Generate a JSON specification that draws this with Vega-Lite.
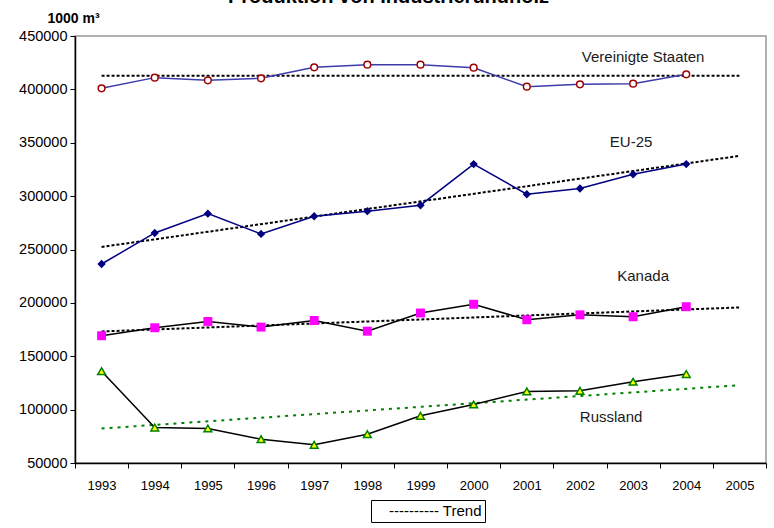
{
  "$schema": "https://vega.github.io/schema/vega-lite/v6.json",
  "autosize": "none",
  "width": 691,
  "height": 427,
  "padding": {"left": 75, "top": 36, "right": 8, "bottom": 65},
  "background": "white",
  "title": {
    "text": "Produktion von Industrierundholz",
    "font": "Liberation Sans",
    "fontSize": 20,
    "fontWeight": "bold",
    "color": "black",
    "anchor": "middle",
    "baseline": "alphabetic",
    "dx": -32,
    "dy": 17,
    "offset": 5
  },
  "config": {
    "view": {"stroke": "#999999", "strokeWidth": 1.5},
    "font": "Liberation Sans",
    "axis": {"grid": false, "domainColor": "black", "tickColor": "black", "labelColor": "black", "titleColor": "black"}
  },
  "datasets": {
    "werte": [
      {"land": "Vereinigte Staaten", "jahr": "1993", "wert": 401000},
      {"land": "Vereinigte Staaten", "jahr": "1994", "wert": 411000},
      {"land": "Vereinigte Staaten", "jahr": "1995", "wert": 408500},
      {"land": "Vereinigte Staaten", "jahr": "1996", "wert": 410400},
      {"land": "Vereinigte Staaten", "jahr": "1997", "wert": 420700},
      {"land": "Vereinigte Staaten", "jahr": "1998", "wert": 423100},
      {"land": "Vereinigte Staaten", "jahr": "1999", "wert": 423100},
      {"land": "Vereinigte Staaten", "jahr": "2000", "wert": 420300},
      {"land": "Vereinigte Staaten", "jahr": "2001", "wert": 402500},
      {"land": "Vereinigte Staaten", "jahr": "2002", "wert": 404700},
      {"land": "Vereinigte Staaten", "jahr": "2003", "wert": 405300},
      {"land": "Vereinigte Staaten", "jahr": "2004", "wert": 414100},
      {"land": "EU-25", "jahr": "1993", "wert": 236400},
      {"land": "EU-25", "jahr": "1994", "wert": 265500},
      {"land": "EU-25", "jahr": "1995", "wert": 283600},
      {"land": "EU-25", "jahr": "1996", "wert": 264600},
      {"land": "EU-25", "jahr": "1997", "wert": 281200},
      {"land": "EU-25", "jahr": "1998", "wert": 285900},
      {"land": "EU-25", "jahr": "1999", "wert": 291500},
      {"land": "EU-25", "jahr": "2000", "wert": 330000},
      {"land": "EU-25", "jahr": "2001", "wert": 301800},
      {"land": "EU-25", "jahr": "2002", "wert": 307100},
      {"land": "EU-25", "jahr": "2003", "wert": 320500},
      {"land": "EU-25", "jahr": "2004", "wert": 330000},
      {"land": "Kanada", "jahr": "1993", "wert": 169200},
      {"land": "Kanada", "jahr": "1994", "wert": 176700},
      {"land": "Kanada", "jahr": "1995", "wert": 182600},
      {"land": "Kanada", "jahr": "1996", "wert": 177300},
      {"land": "Kanada", "jahr": "1997", "wert": 183500},
      {"land": "Kanada", "jahr": "1998", "wert": 173500},
      {"land": "Kanada", "jahr": "1999", "wert": 190500},
      {"land": "Kanada", "jahr": "2000", "wert": 198700},
      {"land": "Kanada", "jahr": "2001", "wert": 184200},
      {"land": "Kanada", "jahr": "2002", "wert": 188800},
      {"land": "Kanada", "jahr": "2003", "wert": 187000},
      {"land": "Kanada", "jahr": "2004", "wert": 196400},
      {"land": "Russland", "jahr": "1993", "wert": 136000},
      {"land": "Russland", "jahr": "1994", "wert": 83200},
      {"land": "Russland", "jahr": "1995", "wert": 82300},
      {"land": "Russland", "jahr": "1996", "wert": 72300},
      {"land": "Russland", "jahr": "1997", "wert": 67000},
      {"land": "Russland", "jahr": "1998", "wert": 77000},
      {"land": "Russland", "jahr": "1999", "wert": 94200},
      {"land": "Russland", "jahr": "2000", "wert": 104800},
      {"land": "Russland", "jahr": "2001", "wert": 117000},
      {"land": "Russland", "jahr": "2002", "wert": 117600},
      {"land": "Russland", "jahr": "2003", "wert": 126100},
      {"land": "Russland", "jahr": "2004", "wert": 133300}
    ],
    "trend": [
      {"land": "Vereinigte Staaten", "jahr": "1993", "wert": 412800},
      {"land": "Vereinigte Staaten", "jahr": "2005", "wert": 412800},
      {"land": "EU-25", "jahr": "1993", "wert": 252400},
      {"land": "EU-25", "jahr": "2005", "wert": 337700},
      {"land": "Kanada", "jahr": "1993", "wert": 173200},
      {"land": "Kanada", "jahr": "2005", "wert": 195700},
      {"land": "Russland", "jahr": "1993", "wert": 82300},
      {"land": "Russland", "jahr": "2005", "wert": 122900}
    ],
    "beschriftung": [
      {"text": "Vereinigte Staaten", "jahr": "2003", "wert": 430300},
      {"text": "EU-25", "jahr": "2003", "wert": 350700},
      {"text": "Kanada", "jahr": "2003", "wert": 225200},
      {"text": "Russland", "jahr": "2003", "wert": 93100}
    ]
  },
  "encoding": {
    "x": {
      "field": "jahr", "type": "ordinal",
      "scale": {"domain": ["1993","1994","1995","1996","1997","1998","1999","2000","2001","2002","2003","2004","2005"], "paddingInner": 0, "paddingOuter": 0},
      "axis": {"title": null, "labelAngle": 0, "tickBand": "extent", "tickSize": 5, "labelPadding": 11, "labelFont": "Liberation Sans", "labelFontSize": 13, "domainWidth": 1.5}
    },
    "y": {
      "field": "wert", "type": "quantitative",
      "scale": {"domain": [50000, 450000], "nice": false, "zero": false},
      "axis": {"title": "1000 m³", "titleAngle": 0, "titleAlign": "center", "titleBaseline": "alphabetic", "titleX": -2, "titleY": -14, "titleFontSize": 14, "titleFontWeight": "bold", "values": [50000,100000,150000,200000,250000,300000,350000,400000,450000], "format": "d", "labelFontSize": 14.5, "tickSize": 5, "labelPadding": 3, "domainWidth": 1.5}
    }
  },
  "layer": [
    {
      "data": {"name": "trend"},
      "transform": [{"filter": "datum.land !== 'Russland'"}],
      "mark": {"type": "line", "color": "black", "strokeWidth": 2, "strokeDash": [3, 5]},
      "encoding": {
        "detail": {"field": "land"},
        "strokeDash": {"datum": "Trend", "scale": {"domain": ["Trend"], "range": [[3, 2]]}, "legend": {"title": null, "orient": "none", "legendX": 296, "legendY": 464, "strokeColor": "black", "fillColor": "white", "padding": 3, "symbolSize": 0, "symbolOpacity": 0, "symbolStrokeWidth": 0, "labelExpr": "'---------- ' + datum.label", "labelFontSize": 15, "labelColor": "black", "labelOffset": 0}}
      }
    },
    {
      "data": {"name": "trend"},
      "transform": [{"filter": "datum.land === 'Russland'"}],
      "mark": {"type": "line", "color": "#008000", "strokeWidth": 2, "strokeDash": [3, 5]},
      "encoding": {}
    },
    {
      "data": {"name": "werte"},
      "transform": [{"filter": "datum.land === 'Vereinigte Staaten'"}],
      "mark": {"type": "line", "color": "#3c3caa", "strokeWidth": 1.5, "point": {"shape": "circle", "filled": false, "fill": "white", "stroke": "#a00000", "strokeWidth": 1.5, "size": 45}},
      "encoding": {}
    },
    {
      "data": {"name": "werte"},
      "transform": [{"filter": "datum.land === 'EU-25'"}],
      "mark": {"type": "line", "color": "#000080", "strokeWidth": 1.5, "point": {"shape": "diamond", "filled": true, "color": "#000080", "size": 70}},
      "encoding": {}
    },
    {
      "data": {"name": "werte"},
      "transform": [{"filter": "datum.land === 'Kanada'"}],
      "mark": {"type": "line", "color": "black", "strokeWidth": 1.5, "point": {"shape": "square", "filled": true, "color": "#ff00ff", "size": 80}},
      "encoding": {}
    },
    {
      "data": {"name": "werte"},
      "transform": [{"filter": "datum.land === 'Russland'"}],
      "mark": {"type": "line", "color": "black", "strokeWidth": 1.5, "point": {"shape": "triangle-up", "filled": true, "fill": "#ffff00", "stroke": "#008000", "strokeWidth": 1.5, "size": 60}},
      "encoding": {}
    },
    {
      "data": {"name": "beschriftung"},
      "transform": [{"filter": "datum.text === 'Vereinigte Staaten' || datum.text === 'Kanada'"}],
      "mark": {"type": "text", "fontSize": 15, "color": "#1a1a1a", "baseline": "middle", "dx": 10},
      "encoding": {"text": {"field": "text"}}
    },
    {
      "data": {"name": "beschriftung"},
      "transform": [{"filter": "datum.text === 'EU-25'"}],
      "mark": {"type": "text", "fontSize": 15, "color": "#1a1a1a", "baseline": "middle", "dx": -2},
      "encoding": {"text": {"field": "text"}}
    },
    {
      "data": {"name": "beschriftung"},
      "transform": [{"filter": "datum.text === 'Russland'"}],
      "mark": {"type": "text", "fontSize": 15, "color": "#1a1a1a", "baseline": "middle", "dx": -22},
      "encoding": {"text": {"field": "text"}}
    },
    {
      "data": {"values": [{}]},
      "mark": {"type": "rule", "color": "black", "strokeWidth": 1.5},
      "encoding": {"x": null, "y": {"datum": 450000}}
    }
  ]
}
